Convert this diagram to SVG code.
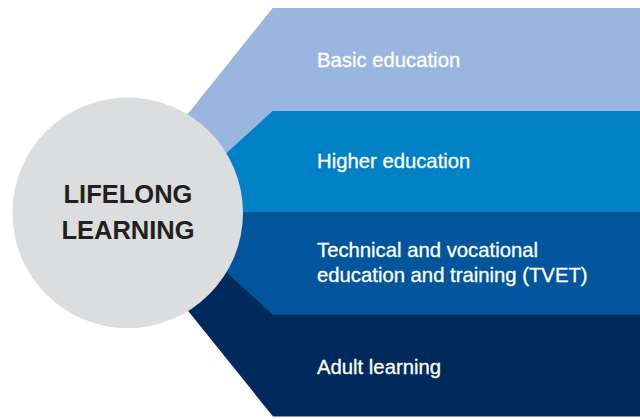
<svg xmlns="http://www.w3.org/2000/svg" width="640" height="419" viewBox="0 0 640 419">
<style>
.lbl{font-family:"Liberation Sans",Arial,Helvetica,sans-serif;font-size:20.3px;fill:#ffffff;stroke:#ffffff;stroke-width:0.3}
.ctr{font-family:"Liberation Sans",Arial,Helvetica,sans-serif;font-size:25.5px;font-weight:bold;fill:#231f20;text-anchor:middle}
</style>
<rect width="640" height="419" fill="#ffffff"/>
<g id="basic-education">
<polygon points="272.7,8 640,8 640,213 108.5,213" fill="#98b6df"/>
<text class="lbl" x="317" y="66.7">Basic education</text>
</g>
<g id="adult-learning">
<polygon points="273,416.5 640,416.5 640,212 108.5,212" fill="#002a5c"/>
<text class="lbl" x="317" y="374.3">Adult learning</text>
</g>
<g id="higher-education">
<polygon points="272.7,111 640,111 640,212.5 161,212.5" fill="#0081c6"/>
<text class="lbl" x="317" y="167.7">Higher education</text>
</g>
<g id="tvet">
<polygon points="272.7,314.5 640,314.5 640,212.5 161,212.5" fill="#00559c"/>
<text class="lbl" x="317" y="257.3">Technical and vocational</text>
<text class="lbl" x="317" y="281.7">education and training (TVET)</text>
</g>
<g id="lifelong-learning">
<circle cx="127.7" cy="212.8" r="115.3" fill="#dcdddf"/>
<text class="ctr" x="128" y="202.7">LIFELONG</text>
<text class="ctr" x="128" y="239.3">LEARNING</text>
</g>
<g id="connectors"></g>
</svg>
